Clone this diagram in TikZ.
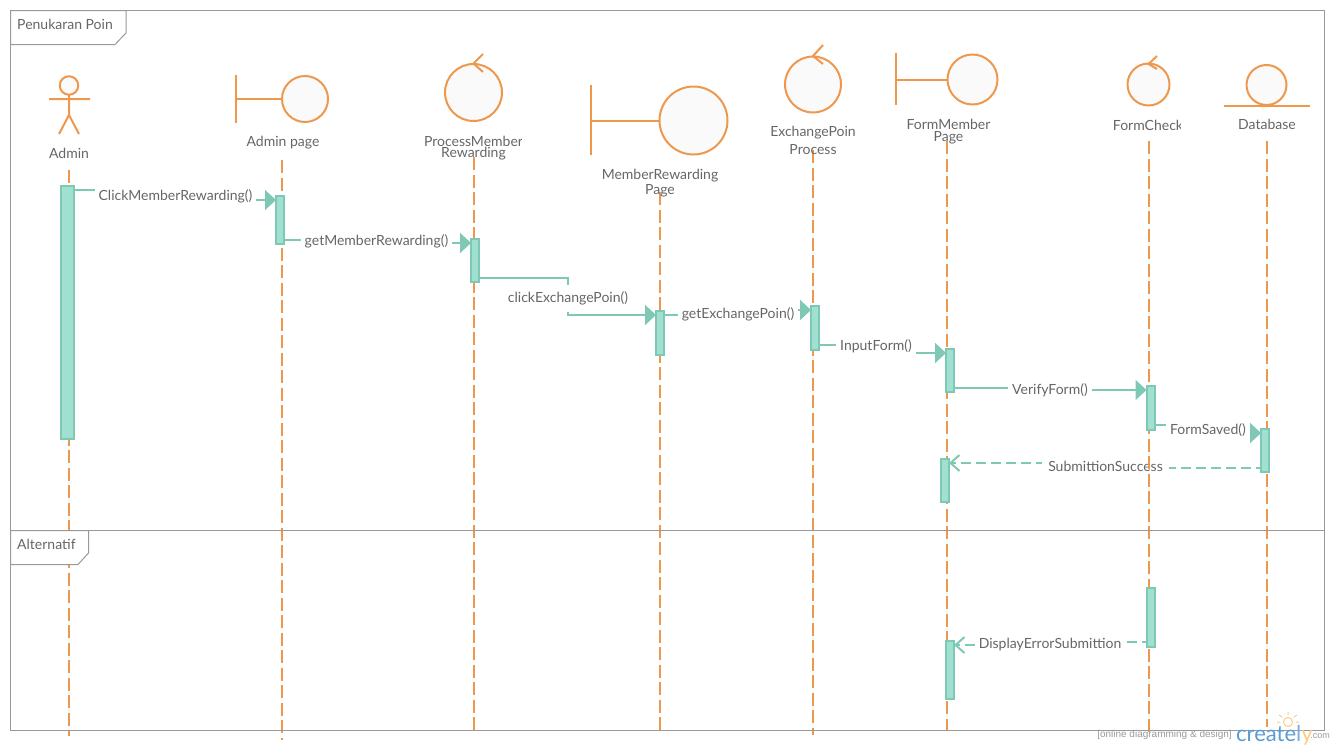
\documentclass[tikz,border=0pt]{standalone}
\usepackage{fontspec}
\setmainfont{Lato}
\newfontfamily\wmfont{Liberation Sans}
\usetikzlibrary{arrows.meta,calc,backgrounds}
\definecolor{headcol}{RGB}{238,152,78}
\definecolor{msgcol}{RGB}{128,200,182}
\definecolor{actcol}{RGB}{160,224,208}
\definecolor{framecol}{RGB}{153,153,153}
\definecolor{textcol}{RGB}{102,102,102}
\definecolor{logocol}{RGB}{91,155,213}
\definecolor{bulbcol}{RGB}{250,205,130}
\tikzset{
  headline/.style={draw=headcol,line width=2pt},
  headcircle/.style={circle,draw=headcol,line width=2pt,fill=black!2,inner sep=0pt,outer sep=0pt},
  headlabel/.style={text=textcol,font=\fontsize{14}{14}\selectfont,inner sep=0pt,align=center,yshift=-1pt},
  lifeline/.style={draw=headcol,line width=2pt,dash pattern=on 13pt off 4.5pt},
  activation/.style={rectangle,draw=msgcol,fill=actcol,line width=2pt,inner sep=0pt,outer sep=0pt,anchor=north},
  msg/.style={draw=msgcol,line width=2pt,-{Triangle[length=11pt,width=20pt,fill=msgcol]}},
  msgback/.style={draw=msgcol,line width=2pt,dash pattern=on 10pt off 5pt,dash phase=5pt,-{Straight Barb[length=9pt,width=16pt]}},
  msglabel/.style={fill=white,text=textcol,font=\fontsize{14}{14}\selectfont,inner xsep=4pt,inner ysep=3pt,yshift=-1pt},
  frameline/.style={draw=framecol,line width=1pt},
  framelabel/.style={text=textcol,font=\fontsize{14}{14}\selectfont,inner sep=0pt,anchor=west},
}

\begin{document}
\begin{tikzpicture}[x=1pt,y=-1pt]
\useasboundingbox (0,0) rectangle (1335,750);

% activation bars
\node[activation,minimum width=13pt,minimum height=253pt] (actAdmin) at (67.5,186) {};
\node[activation,minimum width=8pt,minimum height=48pt] (actPage) at (280,196) {};
\node[activation,minimum width=8pt,minimum height=43pt] (actProcess) at (475,239) {};
\node[activation,minimum width=8pt,minimum height=44pt] (actMember) at (660,311) {};
\node[activation,minimum width=8pt,minimum height=44pt] (actExchange) at (815,306) {};
\node[activation,minimum width=8pt,minimum height=43pt] (actForm) at (950,349) {};
\node[activation,minimum width=8pt,minimum height=44pt] (actCheck) at (1150.5,386) {};
\node[activation,minimum width=8pt,minimum height=43pt] (actBase) at (1265,429) {};
\node[activation,minimum width=8pt,minimum height=43pt] (actFormBack) at (945,459) {};
\node[activation,minimum width=8pt,minimum height=59pt] (actCheckAlt) at (1150.5,588) {};
\node[activation,minimum width=8pt,minimum height=58pt] (actFormAlt) at (950,641) {};

\begin{pgfonlayer}{background}
% messages
\coordinate (mClick) at (175.5,195);
\draw[msg] ($(actAdmin.north east)+(0,4)$) -| (mClick) |- ($(actPage.north west)+(0,4)$);
\node[msglabel] (lClick) at (mClick) {ClickMemberRewarding()};

\coordinate (mGet) at (376.5,240);
\draw[msg] ($(actPage.north east)+(0,44)$) -| (mGet) |- ($(actProcess.north west)+(0,4)$);
\node[msglabel] (lGet) at (mGet) {getMemberRewarding()};

\coordinate (mClickEx) at (568,297);
\draw[msg] ($(actProcess.north east)+(0,39)$) -| (mClickEx) |- ($(actMember.north west)+(0,4)$);
\node[msglabel,minimum height=27pt] (lClickEx) at (mClickEx) {clickExchangePoin()};

\coordinate (mGetEx) at (738,313);
\draw[msg] ($(actMember.north east)+(0,4)$) -| (mGetEx) |- ($(actExchange.north west)+(0,4)$);
\node[msglabel] (lGetEx) at (mGetEx) {getExchangePoin()};

\coordinate (mInput) at (876,345);
\draw[msg] ($(actExchange.north east)+(0,39)$) -| (mInput) |- ($(actForm.north west)+(0,4)$);
\node[msglabel,minimum height=20pt] (lInput) at (mInput) {InputForm()};

\coordinate (mVerify) at (1050,389);
\draw[msg] ($(actForm.north east)+(0,39)$) -| (mVerify) |- ($(actCheck.north west)+(0,4)$);
\node[msglabel] (lVerify) at (mVerify) {VerifyForm()};

\coordinate (mSaved) at (1208,429);
\draw[msg] ($(actCheck.north east)+(0,39)$) -| (mSaved) |- ($(actBase.north west)+(0,4)$);
\node[msglabel,minimum height=20pt] (lSaved) at (mSaved) {FormSaved()};

\coordinate (mSuccess) at (1105.5,465);
\draw[msgback] ($(actBase.north west)+(0,39)$) -| (mSuccess) |- ($(actFormBack.north east)+(0,4)$);
\node[msglabel,inner xsep=6pt] (lSuccess) at (mSuccess) {SubmittionSuccess};

\coordinate (mError) at (1050,644);
\draw[msgback] ($(actCheckAlt.north west)+(0,54)$) -| (mError) |- ($(actFormAlt.north east)+(0,4)$);
\node[msglabel] (lError) at (mError) {DisplayErrorSubmittion};

% lifelines
\coordinate (topAdmin) at (69,170);
\coordinate (endAdmin) at (69,736);
\coordinate (topPage) at (282,160);
\coordinate (endPage) at (282,740);
\coordinate (topProcess) at (474,157);
\coordinate (endProcess) at (474,731);
\coordinate (topMember) at (660,192);
\coordinate (endMember) at (660,731);
\coordinate (topExchange) at (813,150);
\coordinate (endExchange) at (813,735);
\coordinate (topForm) at (947,141);
\coordinate (endForm) at (947,731);
\coordinate (topCheck) at (1149,141);
\coordinate (endCheck) at (1149,735);
\coordinate (topBase) at (1267,141);
\coordinate (endBase) at (1267,727);
\draw[lifeline] (topAdmin) -- (endAdmin);
\draw[lifeline] (topPage) -- (endPage);
\draw[lifeline] (topProcess) -- (endProcess);
\draw[lifeline] (topMember) -- (endMember);
\draw[lifeline] (topExchange) -- (endExchange);
\draw[lifeline] (topForm) -- (endForm);
\draw[lifeline] (topCheck) -- (endCheck);
\draw[lifeline] (topBase) -- (endBase);
\end{pgfonlayer}

% frames
\draw[frameline] (10.5,10.5) rectangle (1324.5,730.5);
\draw[frameline] (10.5,530.5) -- (1324.5,530.5);
\draw[frameline,fill=white] (10.5,10.5) -- (126,10.5) -- (126,33) -- (115,44.5) -- (10.5,44.5) -- cycle;
\draw[frameline,fill=white] (10.5,530.5) -- (88.5,530.5) -- (88.5,553) -- (78,564.5) -- (10.5,564.5) -- cycle;
\node[framelabel] (tabMain) at (17,24) {Penukaran Poin};
\node[framelabel] (tabAlt) at (17,544) {Alternatif};

% Admin actor
\node[headcircle,minimum size=18.5pt] (headAdmin) at (69,85.5) {};
\draw[headline] (headAdmin.south) -- (69,115) (49,99) -- (90,99) (59,134) -- (69,115) -- (79,134);
\node[headlabel] (lblAdmin) at (69,152) {Admin};

% boundaries
\node[headcircle,minimum size=46pt] (headPage) at (305,99) {};
\draw[headline] (236,75) -- (236,123) (236,99) -- (headPage.west);
\node[headlabel] (lblPage) at (283,142) {Admin page};

\node[headcircle,minimum size=68pt] (headMember) at (693.5,120.5) {};
\draw[headline] (591,85) -- (591,155) (591,120.5) -- (headMember.west);
\node[headlabel] (lblMember) at (660,182) {MemberRewarding\\[1.5pt]Page};

\node[headcircle,minimum size=50pt] (headForm) at (972.5,79.5) {};
\draw[headline] (896,53) -- (896,105) (896,79.5) -- (headForm.west);
\node[headlabel] (lblForm) at (948.5,131) {FormMember\\[-2pt]Page};

% controls
\node[headcircle,minimum size=57pt] (headProcess) at (473.5,92.5) {};
\draw[headline] (483,54) -- (473.5,63.5) -- (483,72);
\begin{scope}
\clip (415,130) rectangle (521,160);
\node[headlabel] (lblProcess) at (473.5,147) {ProcessMember\\[-3pt]Rewarding};
\end{scope}

\node[headcircle,minimum size=56pt] (headExchange) at (813,84.5) {};
\draw[headline] (823,45) -- (813,56) -- (823,64);
\node[headlabel] (lblExchange) at (813,139) {ExchangePoin\\[4pt]Process};

\node[headcircle,minimum size=42pt] (headCheck) at (1148.5,84.5) {};
\draw[headline] (1157,56) -- (1148.5,64) -- (1157,69);
\begin{scope}
\clip (1105,115) rectangle (1180,137);
\node[headlabel] (lblCheck) at (1148,124) {FormCheck};
\end{scope}

% entity
\node[headcircle,minimum size=40pt] (headBase) at (1266.5,85) {};
\draw[headline] (1224,106) -- (1310,106);
\node[headlabel] (lblBase) at (1267,123) {Database};

% watermark
\node[text=framecol,font=\wmfont\fontsize{10}{10}\selectfont,inner sep=0pt] (wmText) at (1164.5,735) {[online diagramming \& design]};
\node[font=\fontsize{22}{22}\selectfont,inner sep=0pt,anchor=base west] (wmLogo) at (1236,741)
  {\textcolor{logocol}{create}\textcolor{logocol!80}{l}\textcolor{bulbcol}{y}};
\node[text=framecol,font=\wmfont\fontsize{9}{9}\selectfont,inner sep=0pt] (wmCom) at (1320,736) {.com};
\node[circle,draw=bulbcol,line width=1pt,inner sep=0pt,minimum size=9pt] (wmBulb) at (1288,722) {};
\draw[bulbcol,line width=1pt] (1288,712) -- (1288,715) (1279,715) -- (1282,717) (1297,715) -- (1294,717)
  (1277,722) -- (1280,722) (1296,722) -- (1299,722);
\end{tikzpicture}
\end{document}
